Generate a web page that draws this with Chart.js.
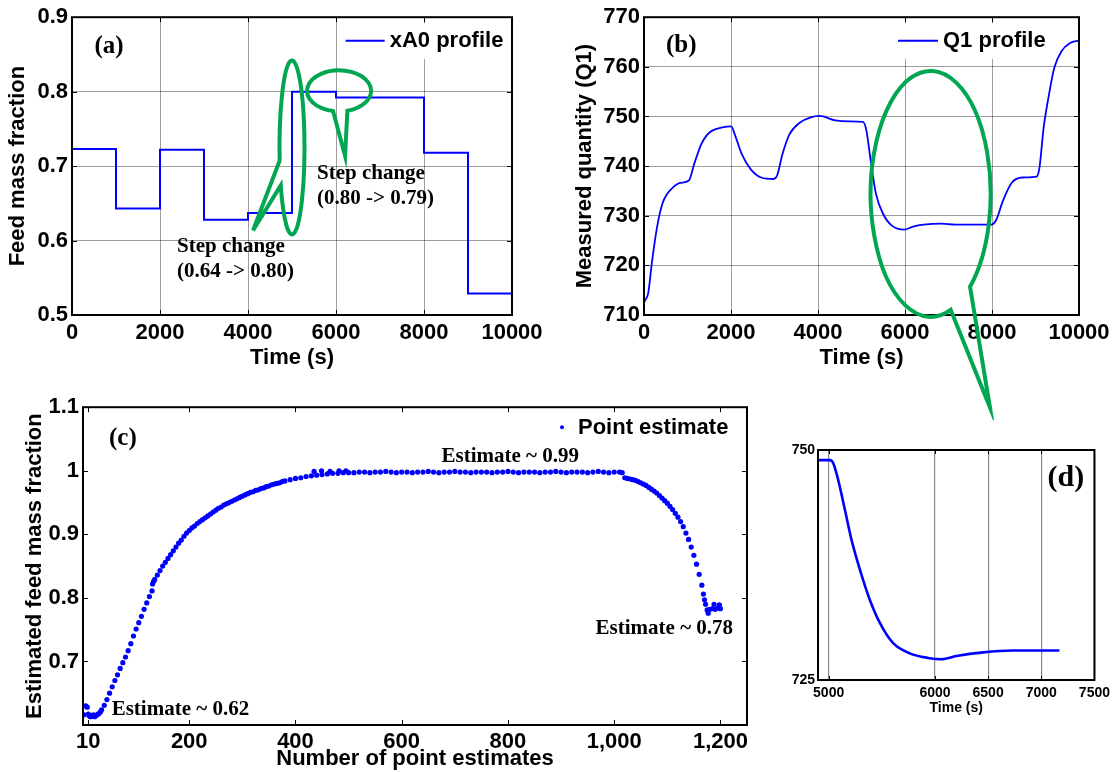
<!DOCTYPE html>
<html><head><meta charset="utf-8">
<script src="https://cdn.jsdelivr.net/npm/chart.js@4.4.1/dist/chart.umd.min.js"></script>
<style>
html,body{margin:0;padding:0;background:#fff;}
#wrap{position:relative;width:1115px;height:772px;overflow:hidden;background:#fff;}
canvas{position:absolute;}
</style></head><body>
<div id="wrap">
<canvas id="ca" width="560" height="380" style="left:0;top:0"></canvas>
<canvas id="cb" width="555" height="420" style="left:560px;top:0"></canvas>
<canvas id="cc" width="770" height="382" style="left:0;top:390px"></canvas>
<canvas id="cd" width="325" height="300" style="left:790px;top:430px"></canvas>
</div>
<script>
// ---------- (a) feed mass fraction step profile ----------
const stepTime  = [0, 1000, 2000, 3000, 4000, 5000, 6000, 7000, 8000, 9000, 10000];
const stepValue = [0.723, 0.643, 0.722, 0.628, 0.637, 0.800, 0.792, 0.792, 0.718, 0.529, 0.529];
const aXTicks = [0, 2000, 4000, 6000, 8000, 10000];
const aYTicks = [0.5, 0.6, 0.7, 0.8, 0.9];

// ---------- (b) measured quantity Q1 ----------
const qTime  = [0, 16, 97, 179, 300, 422, 540, 666, 828, 1031, 1153, 1315, 1450, 1558, 1802, 2005, 2086, 2248, 2451, 2695, 2979, 3060, 3182, 3344, 3588, 3831, 4034, 4400, 4724, 5032, 5114, 5211, 5333, 5495, 5698, 5982, 6185, 6429, 6834, 7159, 7971, 8093, 8255, 8458, 8701, 9026, 9091, 9188, 9310, 9432, 9594, 9797, 10000];
const qValue = [712.5, 712.8, 714.4, 720.4, 727.7, 732.4, 734.5, 735.7, 736.6, 737.1, 740.4, 744.4, 746.3, 747.1, 747.8, 748.0, 746.4, 742.4, 739.4, 737.7, 737.4, 738.1, 742.4, 746.4, 748.8, 749.8, 750.1, 749.2, 749.0, 748.9, 747.1, 741.1, 734.4, 730.4, 728.0, 727.2, 727.8, 728.2, 728.4, 728.2, 728.2, 729.1, 733.1, 736.7, 737.7, 737.9, 739.7, 747.8, 754.4, 759.8, 763.1, 764.8, 765.3];
const bXTicks = [0, 2000, 4000, 6000, 8000, 10000];
const bYTicks = [710, 720, 730, 740, 750, 760, 770];

// ---------- (c) point estimates ----------
const estIndex = [2, 5, 8, 10, 12, 14, 16, 18, 20, 22, 25, 28, 30, 33, 35, 40, 45, 50, 55, 60, 65, 70, 75, 80, 85, 90, 95, 100, 105, 110, 115, 120, 125, 130, 131, 133, 135, 140, 145, 150, 155, 160, 165, 170, 175, 180, 185, 190, 195, 200,
  205, 210, 215, 220, 225, 230, 235, 240, 245, 250, 255, 260, 265, 270, 275, 280, 285, 290, 295, 300, 305, 310, 315, 320, 325, 330, 335, 340, 345, 350, 355, 360, 365, 370, 375, 380, 390, 400, 410, 420, 430, 435, 440, 449, 450, 460, 465, 470, 480, 482, 490, 495, 500,
  510, 520, 530, 540, 550, 560, 570, 580, 590, 600, 610, 620, 630, 640, 650, 660, 670, 680, 690, 700, 710, 720, 730, 740, 750, 760, 770, 780, 790, 800, 810, 820, 830, 840, 850, 860, 870, 880, 890, 900, 910, 920, 930, 940, 950, 960, 970, 980, 990, 1000, 1010, 1015,
  1020, 1025, 1030, 1035, 1040, 1045, 1050, 1055, 1060, 1065, 1070, 1075, 1080, 1085, 1090, 1095, 1100, 1105, 1110, 1115, 1120, 1125, 1130, 1135, 1140, 1145, 1150, 1155, 1160, 1165, 1168, 1170, 1172, 1175, 1177, 1180, 1185, 1188, 1190, 1195, 1198, 1200];
const estValue = [0.616, 0.630, 0.628, 0.617, 0.614, 0.613, 0.615, 0.614, 0.616, 0.613, 0.615, 0.617, 0.618, 0.621, 0.624, 0.631, 0.640, 0.650, 0.660, 0.670, 0.679, 0.689, 0.698, 0.707, 0.717, 0.728, 0.740, 0.751, 0.761, 0.771, 0.782, 0.792, 0.802, 0.811, 0.822, 0.826, 0.829, 0.836, 0.843, 0.850, 0.856, 0.862, 0.868, 0.874, 0.880, 0.886, 0.891, 0.897, 0.902, 0.906,
  0.910, 0.913, 0.917, 0.920, 0.923, 0.926, 0.929, 0.932, 0.935, 0.938, 0.941, 0.943, 0.946, 0.948, 0.950, 0.952, 0.954, 0.956, 0.958, 0.960, 0.962, 0.964, 0.966, 0.967, 0.969, 0.970, 0.972, 0.973, 0.975, 0.976, 0.978, 0.979, 0.980, 0.981, 0.983, 0.984, 0.986, 0.988, 0.989, 0.991, 0.992, 0.999, 0.993, 1.000, 0.994, 0.995, 0.999, 0.996, 0.996, 1.000, 0.997, 1.000, 0.997,
  0.997, 0.998, 0.998, 0.997, 0.998, 0.998, 0.999, 0.998, 0.997, 0.998, 0.998, 0.997, 0.998, 0.998, 0.999, 0.998, 0.997, 0.998, 0.998, 0.999, 0.998, 0.998, 0.997, 0.998, 0.998, 0.998, 0.997, 0.998, 0.998, 0.999, 0.998, 0.997, 0.998, 0.998, 0.998, 0.997, 0.998, 0.998, 0.999, 0.998, 0.997, 0.998, 0.998, 0.998, 0.997, 0.998, 0.999, 0.998, 0.997, 0.998, 0.998, 0.997,
  0.989, 0.988, 0.987, 0.986, 0.985, 0.983, 0.981, 0.979, 0.977, 0.974, 0.971, 0.968, 0.965, 0.961, 0.957, 0.953, 0.949, 0.944, 0.939, 0.933, 0.927, 0.920, 0.912, 0.902, 0.892, 0.880, 0.867, 0.853, 0.837, 0.820, 0.806, 0.797, 0.790, 0.781, 0.776, 0.782, 0.783, 0.790, 0.782, 0.784, 0.789, 0.783];
const cXTicks = [10, 200, 400, 600, 800, 1000, 1200];
const cXLabels = ['10', '200', '400', '600', '800', '1,000', '1,200'];
const cYTicks = [0.7, 0.8, 0.9, 1, 1.1];

// ---------- (d) zoom of Q1 ----------
const dTime  = [4903, 5013, 5044, 5091, 5153, 5216, 5294, 5388, 5482, 5607, 5764, 5935, 6061, 6202, 6452, 6733, 7171];
const dValue = [748.9, 748.9, 748.55, 746.7, 743.5, 740.2, 737.0, 733.7, 731.2, 729.0, 727.9, 727.4, 727.25, 727.6, 728.0, 728.2, 728.2];
const dXTicks = [5000, 6000, 6500, 7000, 7500];
const dYTicks = [725, 750];

// ---------- shared styling ----------
const SANS = "'Liberation Sans', Arial, sans-serif";
const SERIF = "'Liberation Serif', 'Times New Roman', serif";
const BLUE = '#0000ff';
const GREEN = '#00a651';
const GRID = 'rgba(0,0,0,0.38)';
Chart.defaults.font.family = SANS;
Chart.defaults.font.weight = 'bold';
Chart.defaults.color = '#000';

const setTicks = vals => scale => { scale.ticks = vals.map(v => ({ value: v })); };
const pts = (xs, ys) => xs.map((x, i) => ({ x: x, y: ys[i] }));
const px = (chart, x, y) => [chart.scales.x.getPixelForValue(x), chart.scales.y.getPixelForValue(y)];

function frame(chart, tickLen, lw) {
  const { ctx, chartArea: a, scales } = chart;
  ctx.save();
  ctx.strokeStyle = '#000';
  ctx.lineWidth = 1;
  ctx.beginPath();
  scales.x.ticks.forEach(t => {
    const p = Math.round(scales.x.getPixelForValue(t.value)) + 0.5;
    ctx.moveTo(p, a.bottom); ctx.lineTo(p, a.bottom - tickLen);
    ctx.moveTo(p, a.top); ctx.lineTo(p, a.top + tickLen);
  });
  scales.y.ticks.forEach(t => {
    const p = Math.round(scales.y.getPixelForValue(t.value)) + 0.5;
    ctx.moveTo(a.left, p); ctx.lineTo(a.left + tickLen, p);
    ctx.moveTo(a.right, p); ctx.lineTo(a.right - tickLen, p);
  });
  ctx.stroke();
  ctx.lineWidth = lw;
  ctx.strokeRect(a.left, a.top, a.right - a.left, a.bottom - a.top);
  ctx.restore();
}

function text(ctx, s, x, y, font, align) {
  ctx.save();
  ctx.font = font;
  ctx.fillStyle = '#000';
  ctx.textAlign = align || 'left';
  ctx.textBaseline = 'middle';
  ctx.fillText(s, x, y);
  ctx.restore();
}

function balloon(ctx, cx, cy, rx, ry, th1, th2, tx, ty) {
  ctx.save();
  ctx.strokeStyle = GREEN;
  ctx.lineWidth = 4;
  ctx.lineJoin = 'miter';
  ctx.beginPath();
  ctx.ellipse(cx, cy, rx, ry, 0, th1, th2 + 2 * Math.PI, false);
  ctx.lineTo(cx + tx, cy + ty);
  ctx.closePath();
  ctx.stroke();
  ctx.restore();
}

function lineLegend(ctx, a, boxL, boxW, lineL, lineR, label) {
  ctx.save();
  ctx.fillStyle = '#fff';
  ctx.fillRect(a.left + boxL, a.top + 6, boxW, 36);
  ctx.strokeStyle = BLUE;
  ctx.lineWidth = 2;
  ctx.beginPath();
  ctx.moveTo(a.left + lineL, a.top + 23.5);
  ctx.lineTo(a.left + lineR, a.top + 23.5);
  ctx.stroke();
  ctx.restore();
  text(ctx, label, a.left + lineR + 5, a.top + 24, 'bold 22px ' + SANS);
}

function axisX(min, max, ticks, labels, h, fs, pad, title, grid) {
  return {
    type: 'linear', min: min, max: max,
    afterBuildTicks: setTicks(ticks),
    afterFit: s => { s.height = h; },
    grid: grid ? { display: true, color: GRID, lineWidth: 1, drawTicks: false } : { display: false, drawTicks: false },
    border: { display: false },
    ticks: { padding: pad, font: { size: fs, weight: 'bold' }, color: '#000', maxRotation: 0, autoSkip: false,
             callback: (v, i) => labels ? labels[i] : String(v) },
    title: title ? { display: true, text: title, font: { size: fs === 14 ? 14 : 22, weight: 'bold' }, color: '#000', padding: { top: 0, bottom: 0 } } : { display: false }
  };
}
function axisY(min, max, ticks, w, fs, pad, title, tpad, grid) {
  return {
    type: 'linear', min: min, max: max,
    afterBuildTicks: setTicks(ticks),
    afterFit: s => { s.width = w; },
    grid: grid ? { display: true, color: GRID, lineWidth: 1, drawTicks: false } : { display: false, drawTicks: false },
    border: { display: false },
    ticks: { padding: pad, font: { size: fs, weight: 'bold' }, color: '#000', autoSkip: false, callback: v => String(v) },
    title: title ? { display: true, text: title, font: { size: 22, weight: 'bold' }, color: '#000', padding: { top: tpad, bottom: 0 } } : { display: false }
  };
}
const baseOpts = (pad, scales) => ({
  responsive: false, animation: false, devicePixelRatio: 1,
  layout: { padding: pad },
  plugins: { legend: { display: false }, tooltip: { enabled: false } },
  scales: scales
});

// ---------- chart (a) ----------
new Chart(document.getElementById('ca'), {
  type: 'line',
  data: { datasets: [{ label: 'xA0 profile', data: pts(stepTime, stepValue), stepped: 'before',
    borderColor: BLUE, borderWidth: 2, pointRadius: 0, fill: false }] },
  options: baseOpts({ left: 0, top: 16, right: 48, bottom: 9 }, {
    x: axisX(0, 10000, aXTicks, null, 56, 22, 5, 'Time (s)', true),
    y: axisY(0.5, 0.9, aYTicks, 72, 22, 4, 'Feed mass fraction', 5, true)
  }),
  plugins: [{ id: 'decorA', afterDraw(chart) {
    const ctx = chart.ctx, a = chart.chartArea;
    lineLegend(ctx, a, 266, 170, 273.6, 312.7, chart.data.datasets[0].label);
    frame(chart, 5, 2);
    const T = 'bold 25px ' + SERIF, S = 'bold 21px ' + SERIF;
    let p = px(chart, 509, 0.8612); text(ctx, '(a)', p[0], p[1], T);
    p = px(chart, 2386, 0.5914); text(ctx, 'Step change', p[0], p[1], S);
    p = px(chart, 2386, 0.558); text(ctx, '(0.64 -> 0.80)', p[0], p[1], S);
    p = px(chart, 5568, 0.6896); text(ctx, 'Step change', p[0], p[1], S);
    p = px(chart, 5568, 0.6561); text(ctx, '(0.80 -> 0.79)', p[0], p[1], S);
    p = px(chart, 5000, 0.725); balloon(ctx, p[0], p[1], 12.5, 87, 2.99, 2.69, -39, 83);
    p = px(chart, 6070, 0.801); balloon(ctx, p[0], p[1], 32, 20.5, 1.76, 1.308, 6, 65);
  } }]
});

// ---------- chart (b) ----------
new Chart(document.getElementById('cb'), {
  type: 'line',
  data: { datasets: [{ label: 'Q1 profile', data: pts(qTime, qValue), cubicInterpolationMode: 'monotone',
    borderColor: BLUE, borderWidth: 1.8, pointRadius: 0, fill: false }] },
  options: baseOpts({ left: 0, top: 16, right: 36, bottom: 49 }, {
    x: axisX(0, 10000, bXTicks, null, 56, 22, 5, 'Time (s)', true),
    y: axisY(710, 770, bYTicks, 84, 22, 4, 'Measured quantity (Q1)', 11.5, true)
  }),
  plugins: [{ id: 'decorB', afterDraw(chart) {
    const ctx = chart.ctx, a = chart.chartArea;
    lineLegend(ctx, a, 246, 162, 254, 294, chart.data.datasets[0].label);
    frame(chart, 5, 2);
    let p = px(chart, 506, 764.2); text(ctx, '(b)', p[0], p[1], 'bold 25px ' + SERIF);
    p = px(chart, 6590, 734.4); balloon(ctx, p[0], p[1], 60, 123, 1.23, 0.855, 59.3, 213.6);
  } }]
});

// ---------- chart (c) ----------
new Chart(document.getElementById('cc'), {
  type: 'scatter',
  data: { datasets: [{ label: 'Point estimate', data: pts(estIndex, estValue),
    pointRadius: 2.6, pointBackgroundColor: BLUE, pointBorderWidth: 0, showLine: false }] },
  options: baseOpts({ left: 0, top: 16, right: 23, bottom: 0 }, {
    x: axisX(0, 1250, cXTicks, cXLabels, 47, 22, 4, 'Number of point estimates', false),
    y: axisY(0.6, 1.1, cYTicks, 83, 22, 4, 'Estimated feed mass fraction', 22, false)
  }),
  plugins: [{ id: 'decorC', afterDraw(chart) {
    const ctx = chart.ctx, a = chart.chartArea;
    frame(chart, 5, 2);
    const S = 'bold 21px ' + SERIF;
    let p = px(chart, 49, 1.051); text(ctx, '(c)', p[0], p[1], 'bold 25px ' + SERIF);
    p = px(chart, 675, 1.023); text(ctx, 'Estimate ~ 0.99', p[0], p[1], S);
    p = px(chart, 965, 0.752); text(ctx, 'Estimate ~ 0.78', p[0], p[1], S);
    p = px(chart, 54, 0.6245); text(ctx, 'Estimate ~ 0.62', p[0], p[1], S);
    // legend
    ctx.save(); ctx.fillStyle = BLUE; ctx.beginPath();
    ctx.arc(a.left + 479, a.top + 20, 2, 0, 2 * Math.PI); ctx.fill(); ctx.restore();
    text(ctx, chart.data.datasets[0].label, a.left + 495, a.top + 21, 'bold 22px ' + SANS);
  } }]
});

// ---------- chart (d) ----------
new Chart(document.getElementById('cd'), {
  type: 'line',
  data: { datasets: [{ label: 'Q1 zoom', data: pts(dTime, dValue), cubicInterpolationMode: 'monotone',
    borderColor: BLUE, borderWidth: 2.6, pointRadius: 0, fill: false }] },
  options: baseOpts({ left: 0, top: 20, right: 20, bottom: 13 }, {
    x: Object.assign(axisX(4900, 7500, dXTicks, null, 37, 14, 5, 'Time (s)', true),
      { grid: { display: true, color: '#888', lineWidth: 1.2, drawTicks: false } }),
    y: axisY(725, 750, dYTicks, 28, 14, 3, null, 0, false)
  }),
  plugins: [{ id: 'decorD', afterDraw(chart) {
    const ctx = chart.ctx;
    frame(chart, 4, 2);
    const p = px(chart, 7059, 746.9); text(ctx, '(d)', p[0], p[1], 'bold 30px ' + SERIF);
  } }]
});
</script>
</body></html>
